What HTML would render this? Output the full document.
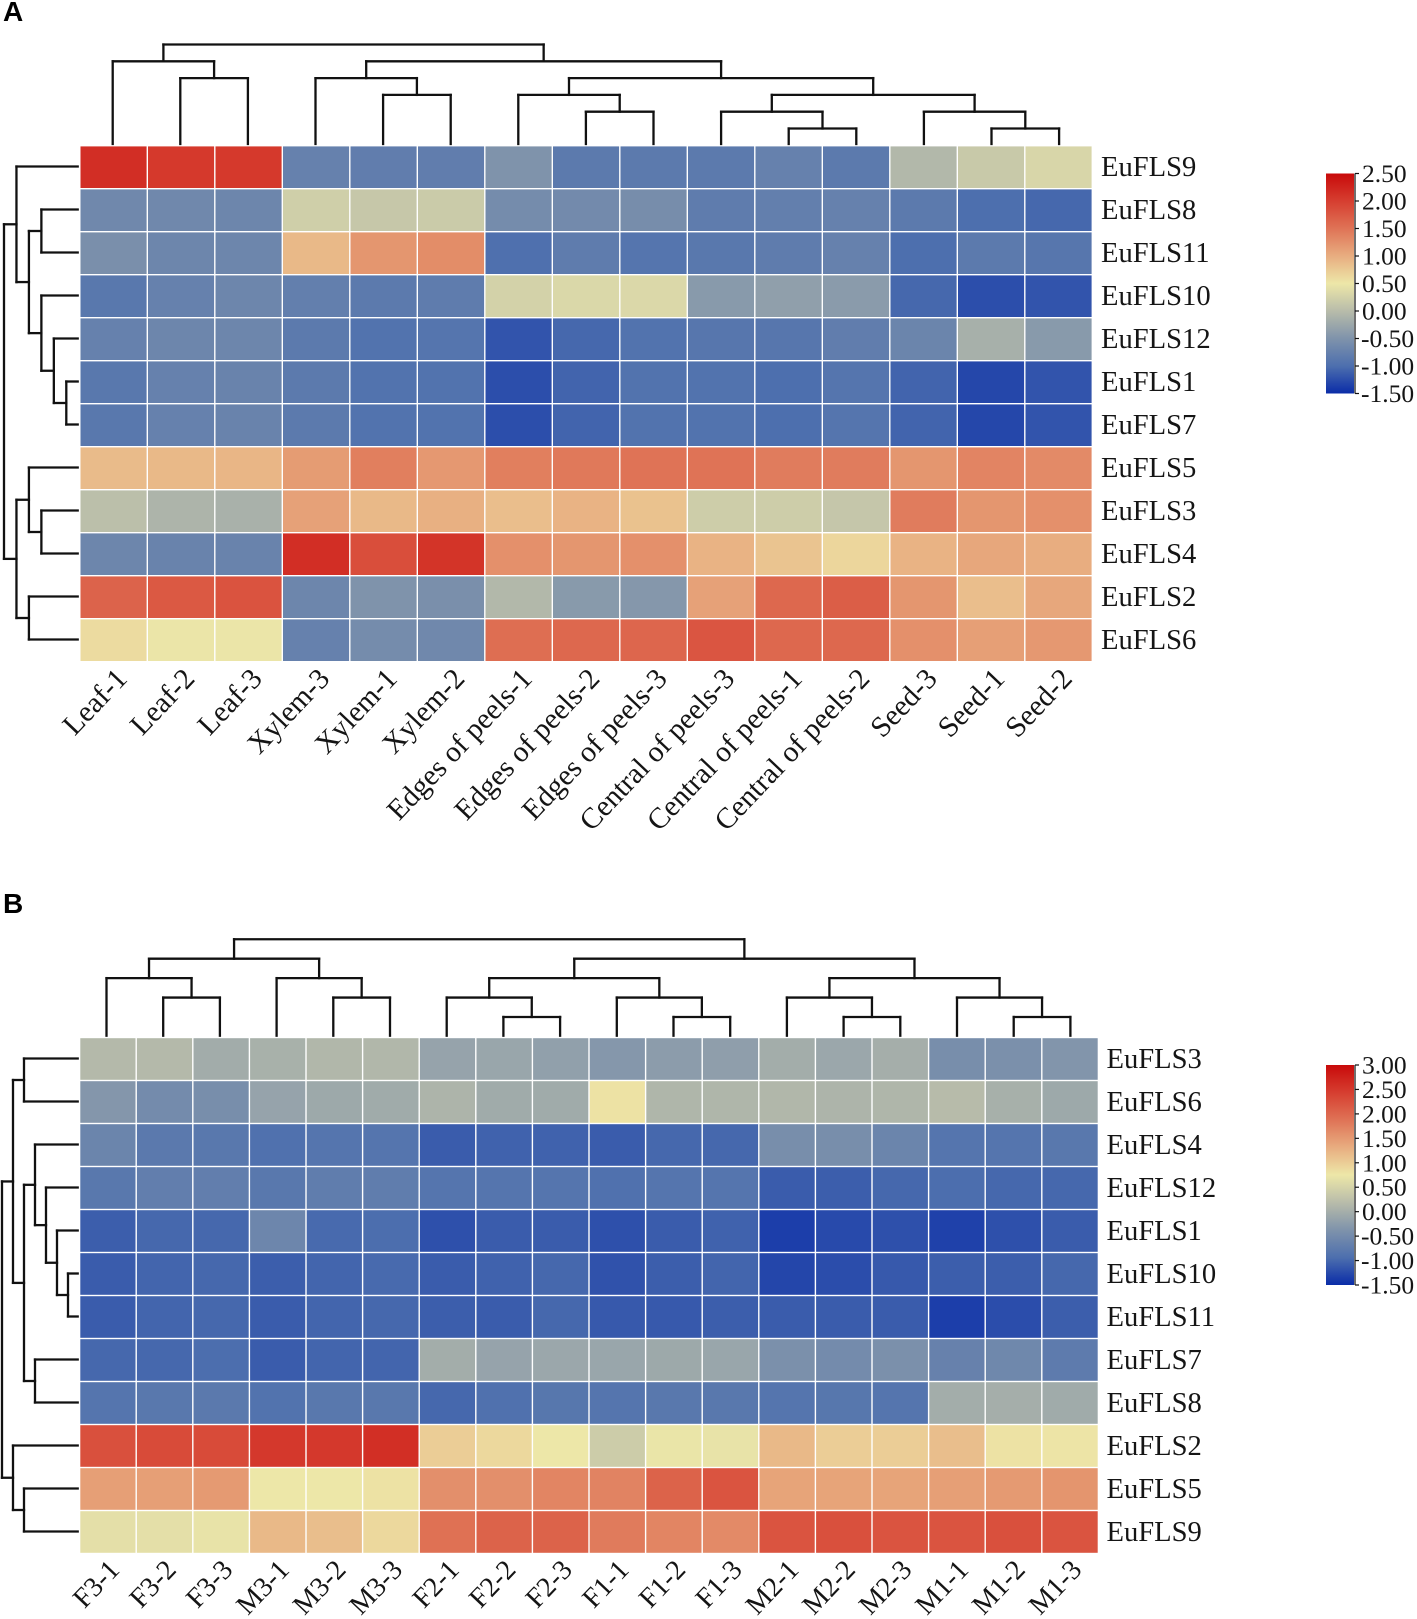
<!DOCTYPE html>
<html lang="en">
<head>
<meta charset="utf-8">
<title>EuFLS expression heatmaps</title>
<style>
html,body{margin:0;padding:0;background:#fff;}
svg{display:block;}
text{font-family:"Liberation Serif",serif;fill:#151515;}
.panel{font-family:"Liberation Sans",sans-serif;font-weight:bold;font-size:28px;fill:#000;}
</style>
</head>
<body>
<svg id="figure" xmlns="http://www.w3.org/2000/svg" width="1417" height="1619" viewBox="0 0 1417 1619">
<defs id="defs"></defs>
<text class="panel" x="3" y="21">A</text>
<text class="panel" x="3" y="913">B</text>
<g id="panelA"></g>
<g id="panelB"></g>
</svg>
<script>
// ---------- Panel A data ----------
const colsA = ["Leaf-1","Leaf-2","Leaf-3","Xylem-3","Xylem-1","Xylem-2","Edges of peels-1","Edges of peels-2","Edges of peels-3","Central of peels-3","Central of peels-1","Central of peels-2","Seed-3","Seed-1","Seed-2"];
const rowsA = ["EuFLS9","EuFLS8","EuFLS11","EuFLS10","EuFLS12","EuFLS1","EuFLS7","EuFLS5","EuFLS3","EuFLS4","EuFLS2","EuFLS6"];
const valuesA = [
[2.15,2.05,2.05,-.75,-.8,-.8,-.5,-.85,-.85,-.85,-.75,-.85,-.05,.15,.3],
[-.65,-.65,-.68,.22,.13,.17,-.6,-.62,-.58,-.82,-.78,-.75,-.85,-1,-1.05],
[-.55,-.68,-.68,.9,1.2,1.28,-.98,-.82,-.92,-.88,-.82,-.75,-1,-.85,-.9],
[-.88,-.75,-.68,-.78,-.85,-.82,.25,.32,.33,-.42,-.35,-.4,-1.05,-1.25,-1.2],
[-.75,-.68,-.68,-.85,-.95,-.92,-1.2,-1.05,-.95,-.9,-.9,-.8,-.7,-.15,-.42],
[-.88,-.75,-.72,-.85,-.95,-.95,-1.25,-1.08,-.95,-.95,-1,-.92,-1.08,-1.3,-1.2],
[-.88,-.75,-.72,-.85,-.95,-.95,-1.25,-1.08,-.95,-.95,-1,-.92,-1.08,-1.3,-1.2],
[.88,.9,.92,1.15,1.4,1.18,1.4,1.45,1.5,1.5,1.42,1.42,1.2,1.35,1.3],
[.03,-.1,-.13,1.1,.9,.97,.85,.95,.82,.2,.2,.12,1.42,1.2,1.25],
[-.68,-.72,-.72,2.15,1.85,2.1,1.25,1.2,1.25,.95,.8,.65,.95,1.05,1],
[1.65,1.75,1.8,-.68,-.5,-.55,-.05,-.42,-.45,1.1,1.6,1.7,1.2,.85,1.05],
[.6,.48,.48,-.75,-.6,-.65,1.55,1.6,1.62,1.78,1.6,1.6,1.25,1.12,1.18]
];
const ticksA = [2.5,2,1.5,1,.5,0,-.5,-1,-1.5];
// tree nodes: [merge level, child, child]; a plain number is a leaf index
const colTreeA = [6,[5,0,[4,1,2]],[5,[4,3,[3,4,5]],[4,[3,6,[2,7,8]],[3,[2,9,[1,10,11]],[2,12,[1,13,14]]]]]];
const rowTreeA = [6,[5,0,[4,[3,1,2],[3,3,[2,4,[1,5,6]]]]],[5,[4,7,[3,8,9]],[4,10,11]]];

// ---------- Panel B data ----------
const colsB = ["F3-1","F3-2","F3-3","M3-1","M3-2","M3-3","F2-1","F2-2","F2-3","F1-1","F1-2","F1-3","M2-1","M2-2","M2-3","M1-1","M1-2","M1-3"];
const rowsB = ["EuFLS3","EuFLS6","EuFLS4","EuFLS12","EuFLS1","EuFLS10","EuFLS11","EuFLS7","EuFLS8","EuFLS2","EuFLS5","EuFLS9"];
const valuesB = [
[.15,.15,-.03,.03,.12,.12,-.15,-.12,-.2,-.32,-.25,-.22,-.02,-.1,0,-.45,-.42,-.35],
[-.33,-.5,-.45,-.15,-.08,-.05,.08,-.05,-.05,.8,.1,.1,.12,.08,.1,.18,.02,-.08],
[-.6,-.78,-.8,-.9,-.85,-.85,-1.1,-1.05,-1.05,-1.1,-1,-1,-.45,-.45,-.6,-.85,-.85,-.8],
[-.8,-.7,-.7,-.8,-.72,-.72,-.85,-.85,-.85,-.9,-.85,-.85,-1.1,-1.08,-1,-.95,-1,-1],
[-1.08,-1,-1,-.58,-.98,-.95,-1.2,-1.1,-1.1,-1.2,-1.1,-1.05,-1.35,-1.25,-1.2,-1.32,-1.2,-1.1],
[-1.1,-1.02,-1,-1.08,-1.02,-.98,-1.1,-1.05,-1,-1.18,-1.08,-1.02,-1.28,-1.22,-1.12,-1.08,-1.08,-1],
[-1.1,-1.02,-1,-1.1,-1.02,-1,-1.08,-1.1,-1,-1.12,-1.12,-1.08,-1.1,-1.1,-1.1,-1.35,-1.22,-1.08],
[-1,-1,-.95,-1.1,-1.02,-1.02,-.02,-.15,-.1,-.12,-.08,-.12,-.42,-.5,-.42,-.65,-.55,-.75],
[-.85,-.8,-.78,-.88,-.8,-.8,-1,-.9,-.82,-.85,-.8,-.8,-.85,-.82,-.85,-.02,0,-.05],
[2.25,2.3,2.3,2.5,2.5,2.6,1,.9,.75,.4,.72,.7,1.2,1,1,1.15,.8,.78],
[1.45,1.45,1.5,.75,.75,.8,1.6,1.6,1.7,1.72,2.05,2.2,1.4,1.4,1.4,1.45,1.5,1.55],
[.65,.65,.7,1.2,1.15,.9,1.9,2.05,2.05,1.8,1.7,1.65,2.2,2.25,2.2,2.2,2.25,2.2]
];
const ticksB = [3,2.5,2,1.5,1,.5,0,-.5,-1,-1.5];
const colTreeB = [5,[4,[3,0,[2,1,2]],[3,3,[2,4,5]]],[4,[3,[2,6,[1,7,8]],[2,9,[1,10,11]]],[3,[2,12,[1,13,14]],[2,15,[1,16,17]]]]];
const rowTreeB = [7,[6,[5,0,1],[5,[4,2,[3,3,[2,4,[1,5,6]]]],[4,7,8]]],[6,9,[5,10,11]]];

// colour ramp shared by both colour bars (low to high)
const ramp = ["#0a2ca8","#4d6fae","#7f93ab","#b8bcaa","#ede7a8","#e8ad80","#df7356","#d63e30","#c80a0a"];

const NS = "http://www.w3.org/2000/svg";
function make(tag, attrs, parent){
  const el = document.createElementNS(NS, tag);
  for (const k in attrs) el.setAttribute(k, attrs[k]);
  parent.appendChild(el);
  return el;
}
function hex(c){ return [1,3,5].map(i => parseInt(c.substr(i,2),16)); }
function rampColor(t){
  t = Math.max(0, Math.min(1, t)) * (ramp.length - 1);
  const i = Math.min(Math.floor(t), ramp.length - 2), f = t - i;
  const a = hex(ramp[i]), b = hex(ramp[i+1]);
  return "rgb(" + a.map((v,k) => Math.round(v + (b[k]-v)*f)).join(",") + ")";
}
function drawTree(parent, tree, leafPos, levelPos, leafEnd, vertical){
  const seg = (x1,y1,x2,y2) => {
    const line = make("path", {d: vertical ? `M${x1} ${y1}L${x2} ${y2}` : `M${y1} ${x1}L${y2} ${x2}`,
      stroke:"#111", "stroke-width":"2.3", fill:"none", "stroke-linecap":"square"}, parent);
    
    
  };
  function walk(node){
    if (typeof node === "number") return {p: leafPos(node), h: leafEnd};
    const a = walk(node[1]), b = walk(node[2]), h = levelPos(node[0]);
    seg(a.p, a.h, a.p, h);
    seg(b.p, b.h, b.p, h);
    seg(a.p, h, b.p, h);
    return {p: (a.p + b.p) / 2, h: h};
  }
  walk(tree);
}
function drawPanel(cfg){
  const root = document.getElementById(cfg.id);
  const xCol = i => cfg.x0 + cfg.cw * i;
  const yRow = i => cfg.y0 + cfg.ch * i;
  const vMin = cfg.ticks[cfg.ticks.length-1], vMax = cfg.ticks[0];
  const tOf = v => (v - vMin) / (vMax - vMin);
  const gap = 1.4;

  const cells = make("g", {}, root);
  
  
  cfg.values.forEach((row, r) => row.forEach((v, c) => {
    const cell = make("rect", {x: xCol(c) + gap/2, y: yRow(r) + gap/2, width: cfg.cw - gap, height: cfg.ch - gap, fill: rampColor(tOf(v))}, cells);
    
    
  }));

  cfg.rows.forEach((name, r) => {
    const t = make("text", {x: cfg.rowLabelX, y: yRow(r) + cfg.ch/2 + cfg.rowBase, "font-size": "28.6"}, root);
    t.textContent = name;
    
    
  });
  cfg.cols.forEach((name, c) => {
    const lx = xCol(c) + cfg.cw/2 + cfg.colLabelDx, ly = cfg.colLabelY;
    const t = make("text", {x: lx, y: ly, "font-size": cfg.colFont, "text-anchor": "end", transform: `rotate(-46.5 ${lx} ${ly})`}, root);
    t.textContent = name;
    
    
  });

  const topTree = make("g", {}, root);
  
  
  drawTree(topTree, cfg.colTree, i => cfg.treeX0 + cfg.treeXStep * i, l => cfg.topBase - cfg.topStep * l, cfg.topLeaf, true);

  const leftTree = make("g", {}, root);
  
  
  drawTree(leftTree, cfg.rowTree, i => cfg.treeY0 + cfg.ch * i, l => cfg.leftBase - cfg.leftStep * l, 77.7, false);

  // colour bar
  const grad = make("linearGradient", {id: cfg.id + "Grad", x1:"0", y1:"1", x2:"0", y2:"0"}, document.getElementById("defs"));
  ramp.forEach((c, i) => make("stop", {offset: i/(ramp.length-1), "stop-color": c}, grad));
  const bar = make("g", {}, root);
  
  
  const yBar = v => cfg.barBottom - tOf(v) * (cfg.barBottom - cfg.barTop);
  const strip = make("rect", {x: 1326, y: cfg.barTop, width: 28, height: cfg.barBottom - cfg.barTop, fill: `url(#${cfg.id}Grad)`}, bar);
  
  
  const axis = make("path", {d: `M1355 ${cfg.barTop}V${cfg.barBottom}`, stroke:"#111", "stroke-width":"1.2", fill:"none"}, bar);
  
  
  cfg.ticks.forEach(v => {
    const y = yBar(v);
    const tick = make("path", {d: `M1355 ${y}h4`, stroke:"#111", "stroke-width":"1.2", fill:"none"}, bar);
    
    
    const t = make("text", {x: v < 0 ? 1361 : 1362, y: y + 8.5, "font-size": "25.5"}, bar);
    t.textContent = v.toFixed(2);
    
    
  });
}
drawPanel({id:"panelA", values:valuesA, rows:rowsA, cols:colsA, ticks:ticksA, colTree:colTreeA, rowTree:rowTreeA,
  x0:79.8, cw:67.5, y0:145.7, ch:43, rowLabelX:1101, rowBase:9, colLabelDx:15, colLabelY:680, colFont:"29.3",
  treeX0:112.7, treeXStep:67.6, treeY0:166.5, topBase:145.3, topStep:16.8, topLeaf:144,
  leftBase:78.76, leftStep:12.46, barTop:173.5, barBottom:393.5});
drawPanel({id:"panelB", values:valuesB, rows:rowsB, cols:colsB, ticks:ticksB, colTree:colTreeB, rowTree:rowTreeB,
  x0:79.6, cw:56.6, y0:1037.5, ch:43, rowLabelX:1106.5, rowBase:8.8, colLabelDx:13, colLabelY:1571, colFont:"28",
  treeX0:106.5, treeXStep:56.7, treeY0:1058.5, topBase:1036.4, topStep:19.43, topLeaf:1035.7,
  leftBase:79, leftStep:11, barTop:1065, barBottom:1285});
</script>
</body>
</html>
